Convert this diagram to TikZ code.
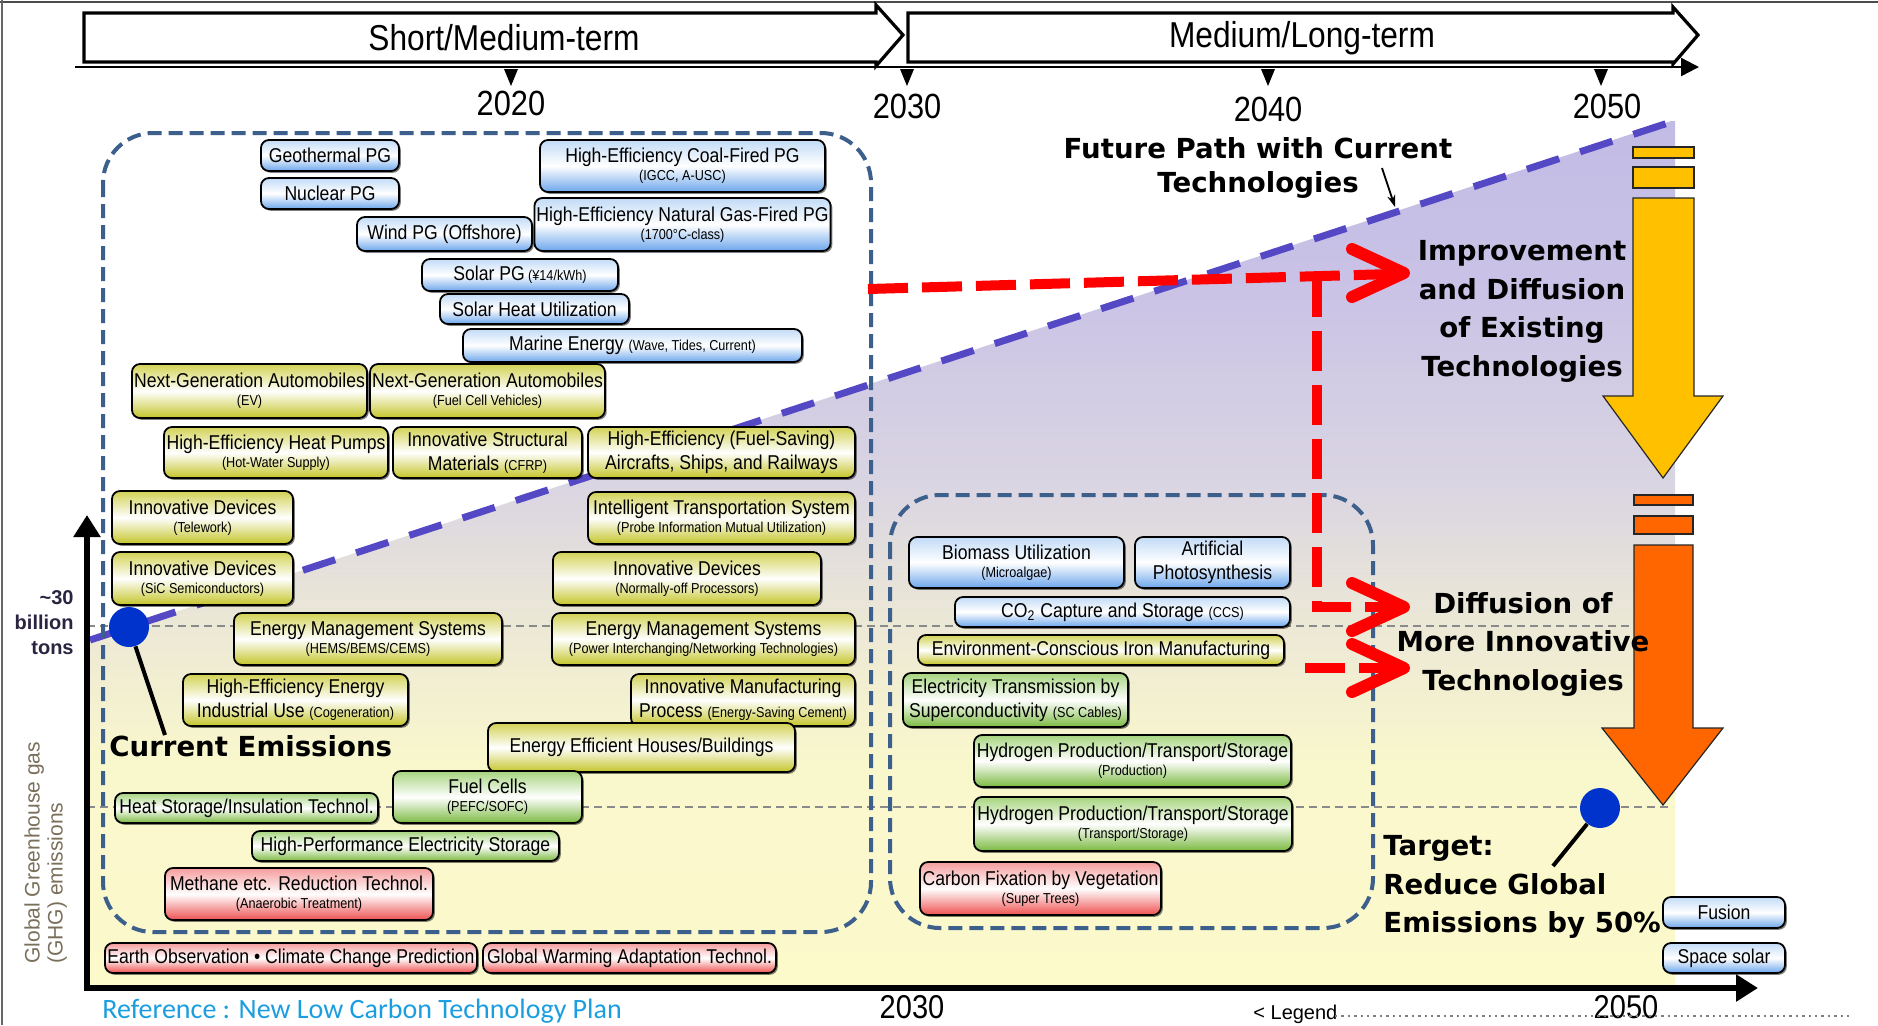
\documentclass[tikz,border=0pt]{standalone}
\usepackage{fontspec}
\setmainfont{Liberation Sans}
\newfontfamily\nar[FakeStretch=0.88]{Liberation Sans}
\newfontfamily\dvs{DejaVu Sans}
\newfontfamily\carl{Carlito}
\usetikzlibrary{shadows,arrows.meta}
\definecolor{blueT}{HTML}{C2DBF7}
\definecolor{blueB}{HTML}{6CA6EC}
\definecolor{yelT}{HTML}{D2D255}
\definecolor{yelB}{HTML}{C4C428}
\definecolor{grnT}{HTML}{A6D47E}
\definecolor{grnB}{HTML}{7AB940}
\definecolor{redT}{HTML}{F59C9C}
\definecolor{redB}{HTML}{EE5050}
\definecolor{bgA}{HTML}{FCFACB}
\definecolor{bgB}{HTML}{F9F7CC}
\definecolor{bgC}{HTML}{ECE8D6}
\definecolor{bgD}{HTML}{DAD5E2}
\definecolor{bgE}{HTML}{CAC3E6}
\definecolor{bgF}{HTML}{C2BBE5}
\definecolor{regc}{HTML}{3D5F8C}
\definecolor{gryc}{HTML}{8A8A8A}
\definecolor{purc}{HTML}{5548C4}
\definecolor{dotc}{HTML}{0033CC}
\definecolor{refc}{HTML}{1B9EE0}
\definecolor{ylc}{HTML}{7A6F5A}
\definecolor{gtc}{HTML}{2B2440}
\definecolor{arY}{HTML}{FFC000}
\definecolor{arO}{HTML}{FF6600}
\pgfdeclareverticalshading{bgsh}{100bp}{color(0bp)=(bgA); color(25bp)=(bgA); color(38bp)=(bgB); color(46bp)=(bgC); color(54bp)=(bgD); color(65bp)=(bgE); color(75bp)=(bgF); color(100bp)=(bgF)}
\newcommand\bxmain{\fontsize{10}{12}\selectfont}
\newcommand\bxsub{\fontsize{7.2}{9}\selectfont}
\newcommand\bxs[1]{{\bxsub #1}}
\tikzset{
  techbox/.style={draw=black, line width=0.9pt, rounded corners=4pt, inner sep=1pt, align=center,
    font=\nar\bxmain, top color=#1T, bottom color=#1B, middle color=white,
    drop shadow={shadow xshift=0.9pt, shadow yshift=-0.9pt, opacity=0.5, fill=black}},
  region/.style={draw=regc, line width=2pt, dash pattern=on 7pt off 3.5pt, rounded corners=25pt},
  gdash/.style={draw=gryc, line width=1.2pt, dash pattern=on 4pt off 2.5pt},
  pdash/.style={draw=purc, line width=3.5pt, dash pattern=on 17pt off 11pt},
  reddash/.style={draw=red, line width=5pt, dash pattern=on 20pt off 7pt},
  redhead/.style={draw=red, line width=6pt, line cap=round, line join=round},
  blbl/.style={font=\dvs\bfseries\fontsize{13.8}{19.25}\selectfont, inner sep=0pt},
  yr/.style={font=\nar\fontsize{17.5}{20}\selectfont, inner sep=0pt, anchor=base},
  banner/.style={draw=black, line width=1.6pt, fill=white, line join=miter},
  bigarrow/.style={draw=black!85, line width=0.6pt}
}
\newcommand\tbox[7]{\node[techbox=#2, minimum width={(#5-#3)*0.5pt}, minimum height={(#6-#4)*0.5pt}] (#1) at ({(#3+#5)/2},{(#4+#6)/2}) {#7};}
\begin{document}
\begin{tikzpicture}[x=0.5pt,y=-0.5pt]
\clip (0,0) rectangle (1878,1025);
\fill[white] (0,0) rectangle (1878,1025);
\draw[line width=1pt, black!70] (0,1.5) -- (1878,1.5);
\draw[line width=1pt, black!60] (2,0) -- (2,1025);

% banners
\draw[banner] (84,13) -- (876,13) -- (876,5) -- (903,35) -- (876,66) -- (876,62) -- (84,62) -- cycle;
\node[font=\nar\fontsize{18}{20}\selectfont, inner sep=0] (smt) at (504,38) {Short/Medium-term};
\draw[banner] (908,13) -- (1673,13) -- (1673,7) -- (1698,35) -- (1673,64) -- (1673,62) -- (908,62) -- cycle;
\node[font=\nar\fontsize{18}{20}\selectfont, inner sep=0] (mlt) at (1302,38) {Medium/Long-term};

% timeline
\coordinate (tl0) at (75,67);
\coordinate (tl1) at (1699,67);
\draw[line width=1.2pt, -{Triangle[width=9pt,length=9pt]}] (tl0) -- (tl1);
\foreach \tx in {511,907,1268,1601}{\fill (\tx-7,69) -- (\tx+7,69) -- (\tx,86) -- cycle;}
\node[yr] (y2020) at (511,115) {2020};
\node[yr] (y2030) at (907,118) {2030};
\node[yr] (y2040) at (1268,121) {2040};
\node[yr] (y2050) at (1607,118) {2050};

% background shading
\shade[shading=bgsh] (87,641) -- (1671,121) -- (1675,121) -- (1675,988) -- (87,988) -- cycle;

% gray dashed levels
\coordinate (ga1) at (87,626); \coordinate (ga2) at (1673,626);
\coordinate (gb1) at (87,807); \coordinate (gb2) at (1673,807);
\draw[gdash] (ga1) -- (ga2);
\draw[gdash] (gb1) -- (gb2);

% purple path
\coordinate (pa) at (90,640); \coordinate (pb) at (1671,122);
\draw[pdash] (pa) -- (pb);

% regions
\draw[region] (103,133) rectangle (871,932);
\draw[region] (890,495) rectangle (1373,928);

% red arrows
\coordinate (ra) at (868,289);
\coordinate (re1) at (1392,274);
\coordinate (rt1) at (1404,273);
\coordinate (rb) at (1317,277);
\coordinate (rc) at (1317,607);
\coordinate (re2) at (1392,607);
\coordinate (rt2) at (1404,607);
\coordinate (rd) at (1305,668);
\coordinate (re3) at (1392,668);
\coordinate (rt3) at (1404,668);
\draw[reddash] (ra) -- (re1);
\draw[reddash] (rb) -- (rc) -- (re2);
\draw[reddash] (rd) -- (re3);
\draw[redhead] (rt1) ++(-52,-24) -- (rt1) -- ++(-52,24);
\draw[redhead] (rt2) ++(-52,-24) -- (rt2) -- ++(-52,24);
\draw[redhead] (rt3) ++(-52,-24) -- (rt3) -- ++(-52,24);

% boxes (left region)
\tbox{b1}{blue}{261}{140}{399}{171}{Geothermal PG}
\tbox{b2}{blue}{261}{178}{399}{209}{Nuclear PG}
\tbox{b3}{blue}{540}{140}{825}{192}{High-Efficiency Coal-Fired PG\\[-3pt]\bxs{(IGCC, A-USC)}}
\tbox{b4}{blue}{540}{198}{825}{251}{High-Efficiency Natural Gas-Fired PG\\[-3pt]\bxs{(1700°C-class)}}
\tbox{b5}{blue}{357}{217}{532}{251}{Wind PG (Offshore)}
\tbox{b6}{blue}{422}{259}{618}{291}{Solar PG\,\bxs{(¥14/kWh)}}
\tbox{b7}{blue}{440}{294}{629}{324}{Solar Heat Utilization}
\tbox{b8}{blue}{463}{329}{802}{362}{Marine Energy \bxs{(Wave, Tides, Current)}}
\tbox{b9}{yel}{132}{364}{367}{418}{Next-Generation Automobiles\\[-3pt]\bxs{(EV)}}
\tbox{b10}{yel}{371}{364}{604}{418}{Next-Generation Automobiles\\[-3pt]\bxs{(Fuel Cell Vehicles)}}
\tbox{b11}{yel}{164}{427}{388}{478}{High-Efficiency Heat Pumps\\[-3pt]\bxs{(Hot-Water Supply)}}
\tbox{b12}{yel}{393}{427}{582}{478}{Innovative Structural\\Materials \bxs{(CFRP)}}
\tbox{b13}{yel}{588}{427}{855}{478}{High-Efficiency (Fuel-Saving)\\Aircrafts, Ships, and Railways}
\tbox{b14}{yel}{112}{491}{293}{544}{Innovative Devices\\[-3pt]\bxs{(Telework)}}
\tbox{b15}{yel}{588}{492}{855}{544}{Intelligent Transportation System\\[-3pt]\bxs{(Probe Information Mutual Utilization)}}
\tbox{b16}{yel}{112}{552}{293}{605}{Innovative Devices\\[-3pt]\bxs{(SiC Semiconductors)}}
\tbox{b17}{yel}{553}{552}{821}{605}{Innovative Devices\\[-3pt]\bxs{(Normally-off Processors)}}
\tbox{b18}{yel}{234}{613}{502}{665}{Energy Management Systems\\[-3pt]\bxs{(HEMS/BEMS/CEMS)}}
\tbox{b19}{yel}{552}{613}{855}{665}{Energy Management Systems\\[-3pt]\bxs{(Power Interchanging/Networking Technologies)}}
\tbox{b20}{yel}{183}{674}{408}{726}{High-Efficiency Energy\\Industrial Use \bxs{(Cogeneration)}}
\tbox{b21}{yel}{631}{674}{855}{726}{Innovative Manufacturing\\Process \bxs{(Energy-Saving Cement)}}
\tbox{b22}{yel}{488}{723}{795}{772}{Energy Efficient Houses/Buildings}
\tbox{b23}{grn}{393}{771}{582}{823}{Fuel Cells\\[-3pt]\bxs{(PEFC/SOFC)}}
\tbox{b24}{grn}{115}{793}{378}{823}{Heat Storage/Insulation Technol.}
\tbox{b25}{grn}{252}{831}{559}{861}{High-Performance Electricity Storage}
\tbox{b26}{red}{165}{868}{433}{920}{Methane etc. Reduction Technol.\\[-3pt]\bxs{(Anaerobic Treatment)}}
\tbox{b27}{red}{105}{943}{477}{973}{Earth Observation • Climate Change Prediction}
\tbox{b28}{red}{483}{943}{776}{973}{Global Warming Adaptation Technol.}
% boxes (right region)
\tbox{b29}{blue}{909}{537}{1124}{588}{Biomass Utilization\\[-3pt]\bxs{(Microalgae)}}
\tbox{b30}{blue}{1135}{537}{1290}{588}{Artificial\\Photosynthesis}
\tbox{b31}{blue}{955}{597}{1290}{627}{CO\textsubscript{2} Capture and Storage \bxs{(CCS)}}
\tbox{b32}{yel}{918}{635}{1284}{665}{Environment-Conscious Iron Manufacturing}
\tbox{b33}{grn}{903}{673}{1128}{727}{Electricity Transmission by\\Superconductivity \bxs{(SC Cables)}}
\tbox{b34}{grn}{974}{735}{1291}{787}{Hydrogen Production/Transport/Storage\\[-3pt]\bxs{(Production)}}
\tbox{b35}{grn}{974}{797}{1292}{851}{Hydrogen Production/Transport/Storage\\[-3pt]\bxs{(Transport/Storage)}}
\tbox{b36}{red}{920}{862}{1161}{915}{Carbon Fixation by Vegetation\\[-3pt]\bxs{(Super Trees)}}
% far right
\tbox{b37}{blue}{1663}{897}{1785}{928}{Fusion}
\tbox{b38}{blue}{1663}{943}{1785}{973}{Space solar}

% axes
\coordinate (yt) at (87,515);
\coordinate (org) at (87,988);
\coordinate (xt) at (1758,988);
\draw[line width=3pt, line join=miter, {Triangle[width=13pt,length=11pt]}-{Triangle[width=13pt,length=11pt]}] (yt) -- (org) -- (xt);

% big arrows
\filldraw[bigarrow, fill=arY] (1633,147) rectangle (1694,158);
\filldraw[bigarrow, fill=arY] (1633,167) rectangle (1694,188);
\filldraw[bigarrow, fill=arY] (1633,198) -- (1694,198) -- (1694,396) -- (1723,396) -- (1663,478) -- (1603,396) -- (1633,396) -- cycle;
\filldraw[bigarrow, fill=arO] (1634,495) rectangle (1693,505);
\filldraw[bigarrow, fill=arO] (1634,516) rectangle (1693,534);
\filldraw[bigarrow, fill=arO] (1634,545) -- (1693,545) -- (1693,728) -- (1723,728) -- (1663,805) -- (1602,728) -- (1634,728) -- cycle;

% labels
\node[blbl, font=\dvs\bfseries\fontsize{13.8}{17}\selectfont, align=center, anchor=north] (fp) at (1258,137) {Future Path with Current\\Technologies};
\coordinate (ta) at (1382,168);
\coordinate (tb) at (1395,207);
\draw[line width=0.9pt, -{Stealth[length=6pt,width=4pt]}] (ta) -- (tb);
\node[blbl, align=center, anchor=north] (imp) at (1522,240) {Improvement\\and Diffusion\\of Existing\\Technologies};
\node[blbl, align=center, anchor=north] (dif) at (1523,592) {Diffusion of\\More Innovative\\Technologies};
\node[blbl, align=left, anchor=north west] (tgt) at (1383,835) {Target:\\Reduce Global\\Emissions by 50\%};
\node[blbl, anchor=base west] (cur) at (109,756) {Current Emissions};
\node[anchor=north east, align=right, inner sep=0pt, text=gtc, font=\bfseries\fontsize{10}{12.5}\selectfont] (gt) at (74,590) {\textasciitilde 30\\billion\\tons};
\node[rotate=90, anchor=north west, align=left, inner sep=0pt, text=ylc, font=\fontsize{10.5}{11.5}\selectfont] (ylab) at (24,964) {Global Greenhouse gas\\(GHG) emissions};

% dots
\node[circle, fill=dotc, minimum size=20pt, inner sep=0pt] (d1) at (129,627) {};
\node[circle, fill=dotc, minimum size=20pt, inner sep=0pt] (d2) at (1600,808) {};
\coordinate (ce) at (165,735);
\coordinate (tg) at (1553,866);
\draw[line width=2pt] (d1) -- (ce);
\draw[line width=2pt] (d2) -- (tg);

% bottom texts
\node[yr, anchor=north, font=\nar\fontsize{16.5}{18}\selectfont] (x2030) at (912,995) {2030};
\node[yr, anchor=north, font=\nar\fontsize{16.5}{18}\selectfont] (x2050) at (1626,995) {2050};
\node[anchor=base west, inner sep=0pt, text=refc, font=\carl\fontsize{14}{16}\selectfont] (ref) at (102,1018) {Reference : New Low Carbon Technology Plan};
\node[anchor=base west, inner sep=0pt, font=\fontsize{10}{12}\selectfont] (leg) at (1253,1019) {< Legend};
\coordinate (lg1) at (1335,1016);
\coordinate (lg2) at (1853,1016);
\draw[line width=1.2pt, gray, dotted] (lg1) -- (lg2);
\end{tikzpicture}
\end{document}
